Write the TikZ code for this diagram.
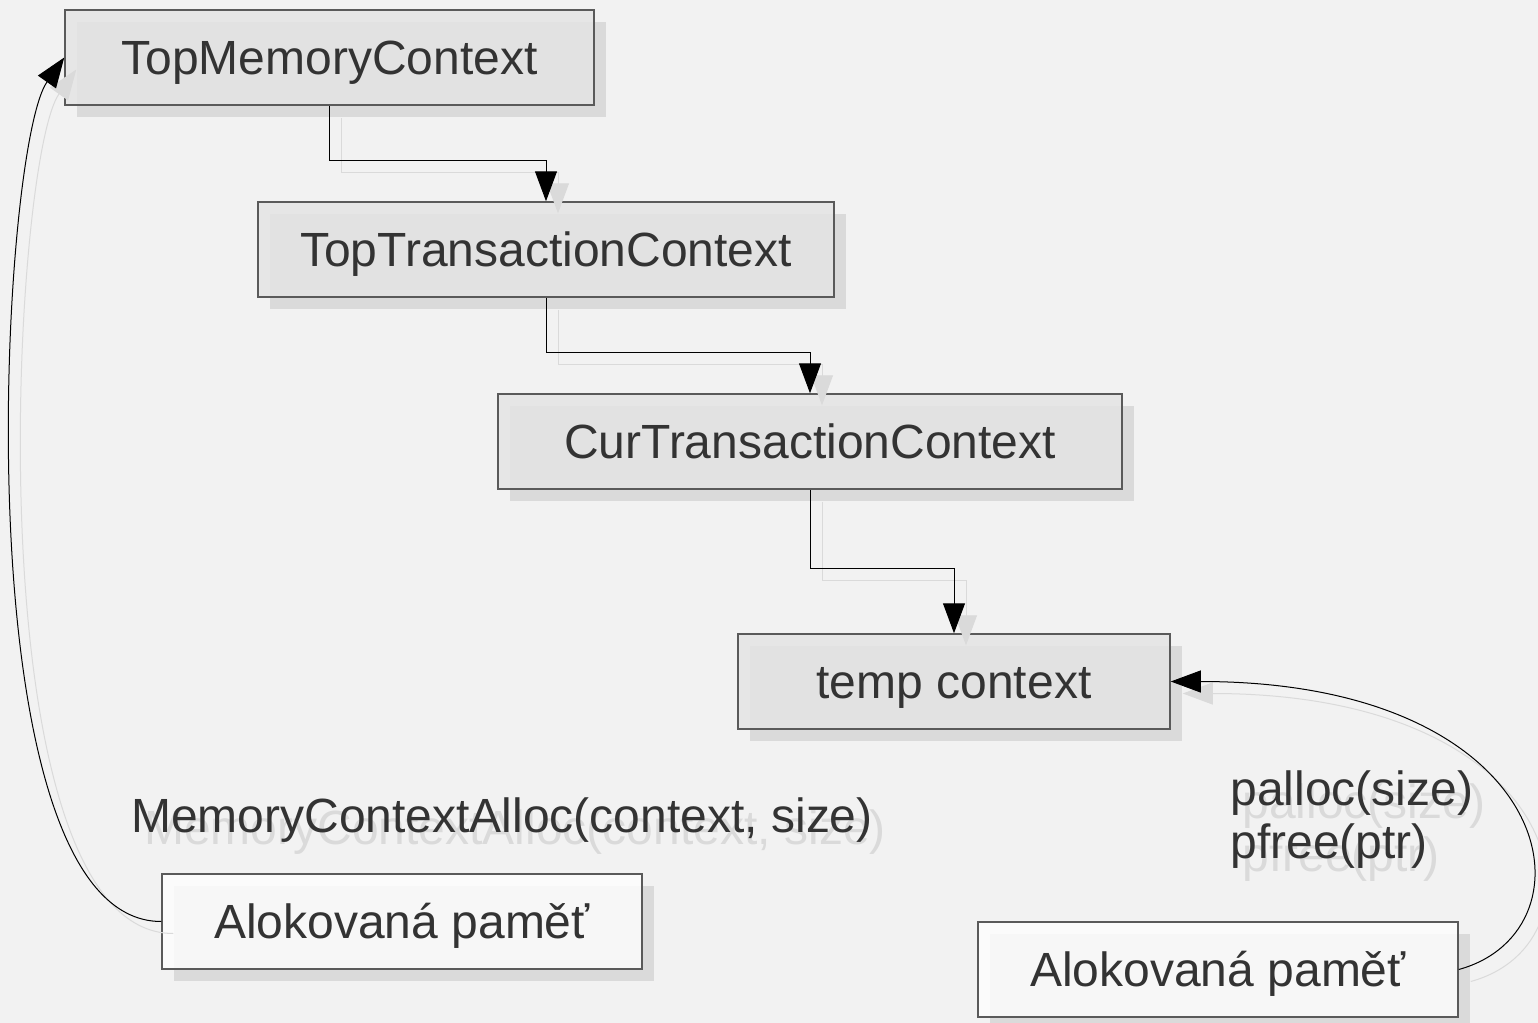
\documentclass[tikz,border=0pt]{standalone}
\usepackage{fontspec}
\setmainfont{Liberation Sans}
\usetikzlibrary{arrows.meta,shadows}
\definecolor{canvasgray}{HTML}{F2F2F2}
\definecolor{ctxgray}{HTML}{E4E4E4}
\definecolor{memwhite}{HTML}{FDFDFD}
\definecolor{shadegray}{HTML}{DADADA}
\definecolor{framegray}{HTML}{5A5A5A}
\definecolor{inkgray}{HTML}{333333}
\begin{document}
\begin{tikzpicture}[x=0.5pt,y=-0.5pt,
  ctx/.style={draw=framegray, line width=0.75pt, fill=ctxgray, fill opacity=0.83, text opacity=1,
    text=inkgray, minimum height=47.5pt, inner sep=0pt, text height=17.2pt, text depth=0pt,
    font=\fontsize{24}{28}\selectfont,
    drop shadow={shadow xshift=6pt, shadow yshift=-6pt, fill=shadegray, opacity=1}},
  mem/.style={ctx, fill=memwhite},
  note/.style={inner sep=0pt, anchor=base west, text=inkgray, font=\fontsize{24}{28}\selectfont},
  noteshade/.style={note, text=shadegray},
  call/.style={note, anchor=base},
  callshade/.style={call, text=shadegray},
  link/.style={draw=black, line width=0.5pt, -{Triangle[length=15pt,width=11pt]}},
  linkshade/.style={link, draw=shadegray}]
\useasboundingbox (0,0) rectangle (1538,1023);
\fill[canvasgray] (0,0) rectangle (1538,1023);

% context boxes
\node[ctx, minimum width=264.5pt] (topmem) at (329.5,57.5) {TopMemoryContext};
\node[ctx, minimum width=288pt] (toptrans) at (546,249.5) {TopTransactionContext};
\node[ctx, minimum width=312pt] (curtrans) at (810,441.5) {CurTransactionContext};
\node[ctx, minimum width=216pt] (temp) at (954,681.5) {temp context};
\node[mem, minimum width=240pt] (allocL) at (402,921.5) {Alokovaná paměť};
\node[mem, minimum width=240pt] (allocR) at (1218,969.5) {Alokovaná paměť};

% labels
\node[callshade] (callS) at (515,844) {MemoryContextAlloc(context, size)};
\node[call] (call) at (502,832) {MemoryContextAlloc(context, size)};
\node[noteshade] (pallocS) at (1242,818) {palloc(size)};
\node[noteshade] (pfreeS) at (1242,871) {pfree(ptr)};
\node[note] (palloc) at (1230,805) {palloc(size)};
\node[note] (pfree) at (1230,858) {pfree(ptr)};

% shadows of the links
\begin{scope}[transform canvas={xshift=6pt,yshift=-6pt}]
\path[linkshade] (topmem.south) -- ++(0,55) -| (toptrans.north);
\path[linkshade] (toptrans.south) -- ++(0,55) -| (curtrans.north);
\path[linkshade] (curtrans.south) -- ++(0,79) -| (temp.north);
\path[linkshade] (allocL.west) .. controls +(-202,0) and +(-65,92) .. (topmem.west);
\path[linkshade] (allocR.east) .. controls +(142,-39) and +(390,0) .. (temp.east);
\end{scope}

% links
\path[link] (topmem.south) -- ++(0,55) -| (toptrans.north);
\path[link] (toptrans.south) -- ++(0,55) -| (curtrans.north);
\path[link] (curtrans.south) -- ++(0,79) -| (temp.north);
\path[link] (allocL.west) .. controls +(-202,0) and +(-65,92) .. (topmem.west);
\path[link] (allocR.east) .. controls +(142,-39) and +(390,0) .. (temp.east);
\end{tikzpicture}
\end{document}
